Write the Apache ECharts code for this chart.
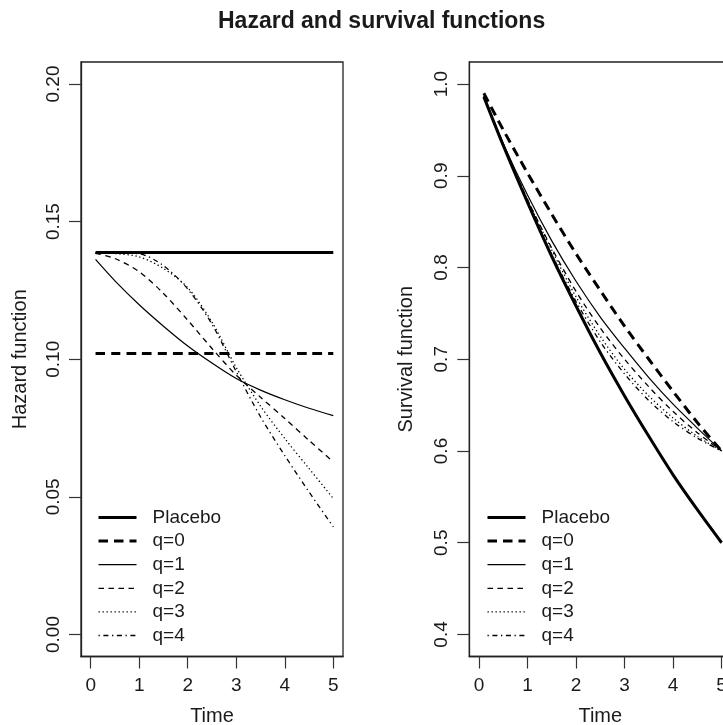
<!DOCTYPE html>
<html>
<head>
<meta charset="utf-8">
<script src="https://cdn.jsdelivr.net/npm/echarts@6/dist/echarts.min.js"></script>
<style>
html,body{margin:0;padding:0;background:#fff;}
#chart{width:723px;height:725px;}
</style>
</head>
<body>
<div id="chart"></div>
<script>
// ---- data ----
const times = [0.1, 0.5, 1, 1.5, 2, 2.5, 3, 3.5, 4, 4.5, 5];
const seriesNames = ['Placebo', 'q=0', 'q=1', 'q=2', 'q=3', 'q=4'];

// Hazard function (left panel)
const hazPlacebo = [0.1388, 0.1388, 0.1388, 0.1388, 0.1388, 0.1388, 0.1388, 0.1388, 0.1388, 0.1388, 0.1388];
const hazQ0 = [0.1021, 0.1021, 0.1021, 0.1021, 0.1021, 0.1021, 0.1021, 0.1021, 0.1021, 0.1021, 0.1021];
const hazQ1 = [0.1363, 0.1285, 0.1198, 0.1120, 0.1048, 0.0986, 0.0930, 0.0888, 0.0853, 0.0822, 0.0795];
const hazQ2 = [0.1385, 0.1366, 0.1318, 0.1239, 0.1142, 0.1039, 0.0942, 0.0862, 0.0785, 0.0705, 0.0627];
const hazQ3 = [0.1386, 0.1384, 0.1372, 0.1330, 0.1260, 0.1135, 0.0970, 0.0830, 0.0712, 0.0603, 0.0494];
const hazQ4 = [0.1386, 0.1386, 0.1383, 0.1340, 0.1255, 0.1127, 0.0955, 0.0791, 0.0650, 0.0518, 0.0391];

// Survival function (right panel)
const survPlacebo = [0.986, 0.933, 0.871, 0.812, 0.758, 0.707, 0.660, 0.616, 0.574, 0.536, 0.500];
const survQ0 = [0.990, 0.950, 0.903, 0.858, 0.815, 0.775, 0.736, 0.700, 0.665, 0.631, 0.600];
const survQ1 = [0.986, 0.935, 0.879, 0.829, 0.785, 0.746, 0.712, 0.680, 0.651, 0.625, 0.600];
const survQ2 = [0.986, 0.934, 0.874, 0.821, 0.774, 0.734, 0.700, 0.670, 0.643, 0.620, 0.600];
const survQ3 = [0.987, 0.935, 0.874, 0.819, 0.768, 0.725, 0.689, 0.660, 0.636, 0.616, 0.600];
const survQ4 = [0.986, 0.934, 0.871, 0.814, 0.763, 0.719, 0.684, 0.655, 0.632, 0.614, 0.600];

// tick labels
const xTicks = [0, 1, 2, 3, 4, 5];
const hazTicks = [0, 0.05, 0.10, 0.15, 0.20];
const survTicks = [0.4, 0.5, 0.6, 0.7, 0.8, 0.9, 1.0];

// ---- styles ----
const FONT = '"Liberation Sans", Arial, Helvetica, sans-serif';
const INK = '#1a1a1a';
const styles = [
  {width: 3, type: 'solid'},
  {width: 3, type: [9.5, 6]},
  {width: 1.2, type: 'solid'},
  {width: 1.3, type: [5.5, 4.5]},
  {width: 1.3, type: [1.3, 2.7]},
  {width: 1.3, type: [1.3, 3.6, 5, 3.6]}
];

const hazData = [hazPlacebo, hazQ0, hazQ1, hazQ2, hazQ3, hazQ4];
const survData = [survPlacebo, survQ0, survQ1, survQ2, survQ3, survQ4];

function mkSeries(arrs, idx) {
  return arrs.map((arr, i) => ({
    name: seriesNames[i],
    type: 'line',
    xAxisIndex: idx,
    yAxisIndex: idx,
    data: times.map((t, k) => [t, arr[k]]),
    showSymbol: false,
    symbol: 'none',
    smooth: 0.3,
    silent: true,
    lineStyle: {color: '#000', width: styles[i].width, type: styles[i].type},
    itemStyle: {color: '#000'},
    z: 10 - i
  }));
}

const axisLineStyle = {color: '#222', width: 1.3};

function xAxis(gridIndex) {
  return {
    type: 'value', gridIndex: gridIndex, min: -0.2, max: 5.2,
    name: 'Time', nameLocation: 'middle', nameGap: 50,
    nameTextStyle: {fontFamily: FONT, fontSize: 20, color: INK},
    axisLine: {show: true, onZero: false, lineStyle: axisLineStyle},
    axisTick: {show: true, inside: false, length: 12, customValues: xTicks, lineStyle: {color: '#333', width: 1.2}},
    axisLabel: {show: true, customValues: xTicks, margin: 20, fontFamily: FONT, fontSize: 19, color: INK,
                formatter: v => String(Math.round(v))},
    splitLine: {show: false}
  };
}

function yAxis(gridIndex, name, min, max, ticks, dec, gap) {
  return {
    type: 'value', gridIndex: gridIndex, min: min, max: max,
    name: name, nameLocation: 'middle', nameGap: gap,
    nameTextStyle: {fontFamily: FONT, fontSize: 20, color: INK},
    axisLine: {show: true, onZero: false, lineStyle: axisLineStyle},
    axisTick: {show: true, inside: false, length: 12, customValues: ticks, lineStyle: {color: '#333', width: 1.2}},
    axisLabel: {show: true, customValues: ticks, rotate: 90, margin: 18, fontFamily: FONT, fontSize: 19, color: INK,
                formatter: v => v.toFixed(dec)},
    splitLine: {show: false}
  };
}

function legend(left) {
  return {
    show: true, orient: 'vertical', left: left, top: 508,
    itemWidth: 38, itemHeight: 14, itemGap: 4.6, padding: 0,
    selectedMode: false,
    data: seriesNames.map((n, i) => ({
      name: n,
      itemStyle: {color: 'transparent', borderWidth: 0, opacity: 0},
      lineStyle: {color: '#000', width: styles[i].width, type: styles[i].type, opacity: 1}
    })),
    textStyle: {fontFamily: FONT, fontSize: 19, color: INK, padding: [0, 0, 0, 11]}
  };
}

const gridBase = {top: 62, width: 262, height: 594.5, show: true, borderColor: '#222', borderWidth: 1.3,
                  backgroundColor: 'transparent', containLabel: false, outerBoundsMode: 'none'};

const chart = echarts.init(document.getElementById('chart'), null, {renderer: 'canvas'});
chart.setOption({
  backgroundColor: '#fff',
  animation: false,
  title: {
    text: 'Hazard and survival functions', left: 213, top: 5,
    textStyle: {fontFamily: FONT, fontSize: 23, fontWeight: 'bold', color: INK}
  },
  grid: [
    Object.assign({left: 81}, gridBase),
    Object.assign({left: 469.3}, gridBase)
  ],
  xAxis: [xAxis(0), xAxis(1)],
  yAxis: [
    yAxis(0, 'Hazard function', -0.008, 0.208, hazTicks, 2, 51),
    yAxis(1, 'Survival function', 0.376, 1.024, survTicks, 1, 53)
  ],
  legend: [legend(97), legend(486)],
  series: mkSeries(hazData, 0).concat(mkSeries(survData, 1))
});
</script>
</body>
</html>
